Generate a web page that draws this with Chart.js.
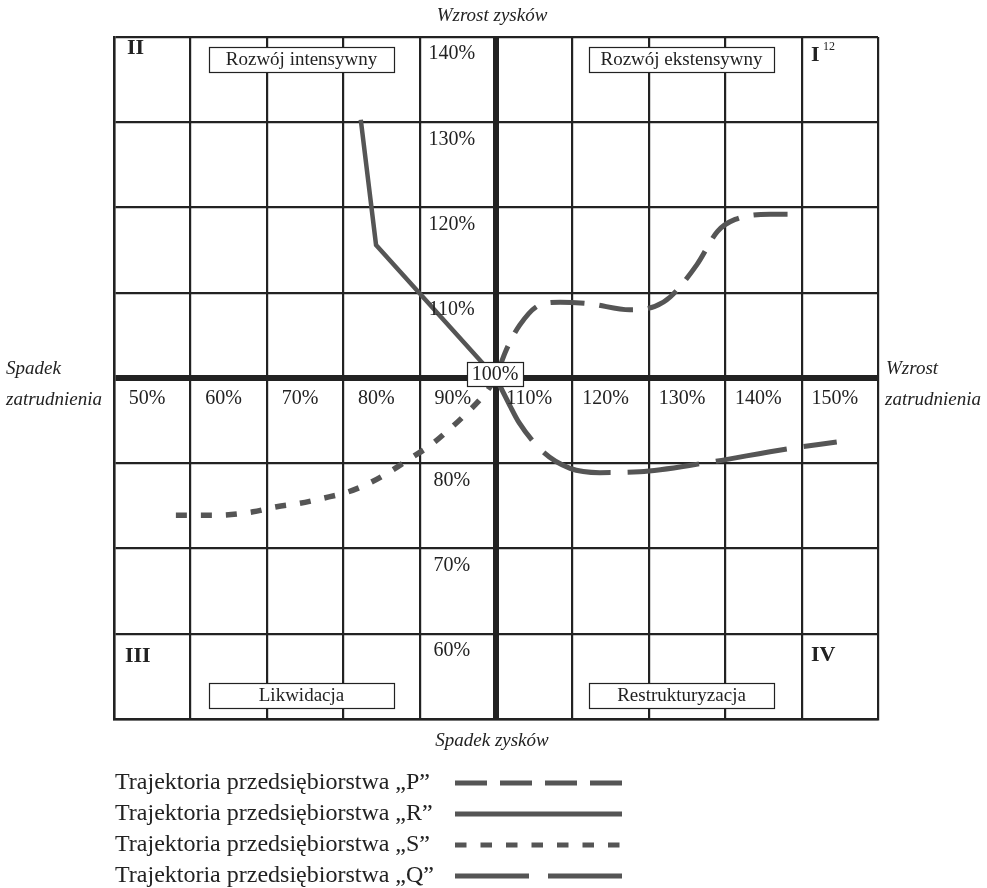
<!DOCTYPE html>
<html lang="pl">
<head>
<meta charset="utf-8">
<title>Trajektorie przedsiębiorstw</title>
<script src="https://cdn.jsdelivr.net/npm/chart.js@4.4.1/dist/chart.umd.min.js"></script>
<style>
    html, body { margin: 0; padding: 0; background: #fff; }
    #wrap { width: 987px; height: 888px; position: relative; }
</style>
</head>
<body>
<div id="wrap"><canvas id="quadChart"></canvas></div>
<script>
// Tick labels (values of the outer edge of each cell, 100% sits on the axes)
const xTickValues = [50, 60, 70, 80, 90, 110, 120, 130, 140, 150];
const xTickLabels = ['50%', '60%', '70%', '80%', '90%', '110%', '120%', '130%', '140%', '150%'];
const yTickValues = [140, 130, 120, 110, 80, 70, 60];
const yTickLabels = ['140%', '130%', '120%', '110%', '80%', '70%', '60%'];

// Trajectory P (medium dash)
const pX = [100, 101.2, 103.1, 105.8, 108.4, 112.3, 117.5, 120.8, 122.8, 126.3, 129.0, 131.3, 135.9, 139.1];
const pY = [100, 103.0, 106.2, 108.6, 108.9, 108.7, 108.0, 108.4, 109.5, 113.3, 117.2, 118.6, 119.2, 119.2];
// Trajectory R (solid)
const rX = [82.3, 84.3, 100];
const rY = [130.3, 115.6, 100];
// Trajectory S (short dash)
const sX = [58.1, 63.2, 68.2, 71.3, 74.3, 77.4, 80.5, 83.5, 86.1, 89.0, 91.4, 93.8, 96.2, 98.6, 100];
const sY = [83.9, 83.9, 84.3, 84.9, 85.3, 85.9, 86.6, 87.7, 89.0, 90.7, 92.1, 93.9, 95.9, 98.2, 100];
// Trajectory Q (long dash)
const qX = [100, 101.8, 103.0, 106.2, 109.7, 113.6, 118.8, 127.1, 138.2, 144.6];
const qY = [100, 96.8, 94.8, 91.3, 89.4, 88.9, 89.0, 90.0, 91.7, 92.5];

const legendLabels = [
    'Trajektoria przedsiębiorstwa „P”',
    'Trajektoria przedsiębiorstwa „R”',
    'Trajektoria przedsiębiorstwa „S”',
    'Trajektoria przedsiębiorstwa „Q”'
];

document.addEventListener('DOMContentLoaded', function() {
    const lineColor = '#555555';
    const gridColor = '#222222';
    const serif = '"Liberation Serif", "Times New Roman", serif';

    function toPoints(xs, ys) {
        return xs.map((x, i) => ({ x: x, y: ys[i] }));
    }

    const styles = [
        { dash: [34, 15], width: 5 },
        { dash: [], width: 4.5 },
        { dash: [11, 14], width: 5.5 },
        { dash: [72, 17], width: 5 }
    ];

    function lineSet(label, xs, ys, style, tension) {
        return {
            label: label,
            data: toPoints(xs, ys),
            showLine: true,
            borderColor: lineColor,
            borderWidth: style.width,
            borderDash: style.dash,
            borderCapStyle: 'butt',
            pointRadius: 0,
            tension: tension,
            cubicInterpolationMode: tension ? 'monotone' : 'default',
            fill: false
        };
    }

    function boxedText(ctx, text, left, top, w, h, size) {
        ctx.fillStyle = '#fff';
        ctx.fillRect(left, top, w, h);
        ctx.strokeStyle = '#222';
        ctx.lineWidth = 1.2;
        ctx.strokeRect(left + 0.5, top + 0.5, w, h);
        ctx.fillStyle = '#222';
        ctx.font = size + 'px ' + serif;
        ctx.textAlign = 'center';
        ctx.textBaseline = 'middle';
        ctx.fillText(text, left + w / 2, top + h / 2 + 1);
    }

    // Labels, boxes, quadrant numbers and the hand-made legend
    const decorations = {
        id: 'decorations',
        afterDatasetsDraw(chart) {
            const ctx = chart.ctx;
            const xs = chart.scales.x;
            const ys = chart.scales.y;
            const cellW = xs.getPixelForValue(60) - xs.getPixelForValue(50);
            ctx.save();

            // axis tick labels inside the cells
            ctx.fillStyle = '#222';
            ctx.font = '20px ' + serif;
            ctx.textAlign = 'center';
            ctx.textBaseline = 'middle';
            const yAxis = ys.getPixelForValue(100);
            xTickValues.forEach((v, i) => {
                const mid = v < 100 ? v + 5 : v - 5;
                ctx.fillText(xTickLabels[i], xs.getPixelForValue(mid) - 5, yAxis + 21);
            });
            const colX = xs.getPixelForValue(95) - 6;
            yTickValues.forEach((v, i) => {
                const top = v > 100 ? v : v + 10;
                ctx.fillText(yTickLabels[i], colX, ys.getPixelForValue(top) + 17);
            });

            // axis titles
            ctx.font = 'italic 19px ' + serif;
            ctx.fillText('Wzrost zysków', 492, 16);
            ctx.fillText('Spadek zysków', 492, 741);
            ctx.textAlign = 'left';
            ctx.fillText('Spadek', 6, 369);
            ctx.fillText('zatrudnienia', 6, 400);
            ctx.fillText('Wzrost', 886, 369);
            ctx.fillText('zatrudnienia', 885, 400);

            // quadrant numbers
            ctx.font = 'bold 22px ' + serif;
            ctx.fillText('II', 127, 48);
            ctx.fillText('I', 811, 55);
            ctx.fillText('III', 125, 656);
            ctx.fillText('IV', 811, 655);
            ctx.font = '12px ' + serif;
            ctx.fillText('12', 823, 47);

            // boxed region names
            const bw = 185, bh = 25;
            boxedText(ctx, 'Rozwój intensywny', 209, 47, bw, bh, 19);
            boxedText(ctx, 'Rozwój ekstensywny', 589, 47, bw, bh, 19);
            boxedText(ctx, 'Likwidacja', 209, 683, bw, bh, 19);
            boxedText(ctx, 'Restrukturyzacja', 589, 683, bw, bh, 19);
            boxedText(ctx, '100%', xs.getPixelForValue(100) - 29, yAxis - 16, 56, 24, 20);

            // legend
            const rowY = [783, 814, 845, 876];
            legendLabels.forEach((txt, i) => {
                ctx.fillStyle = '#222';
                ctx.font = '24px ' + serif;
                ctx.textAlign = 'left';
                ctx.textBaseline = 'middle';
                ctx.fillText(txt, 115, rowY[i]);
                ctx.strokeStyle = lineColor;
                ctx.lineWidth = 5;
                ctx.lineCap = 'butt';
                ctx.setLineDash(i === 2 ? [11.5, 14] : i === 0 ? [32, 13] : i === 3 ? [74, 19] : []);
                ctx.beginPath();
                ctx.moveTo(455, rowY[i]);
                ctx.lineTo(622, rowY[i]);
                ctx.stroke();
            });
            ctx.setLineDash([]);
            ctx.restore();
        }
    };

    function gridOptions() {
        return {
            color: gridColor,
            lineWidth: function(c) {
                if (!c.tick) return 2;
                if (c.tick.value === 100) return 6;
                return 2.2;
            },
            drawTicks: false
        };
    }

    new Chart(document.getElementById('quadChart'), {
        type: 'scatter',
        data: {
            datasets: [
                lineSet('P', pX, pY, styles[0], 0.4),
                lineSet('R', rX, rY, styles[1], 0),
                lineSet('S', sX, sY, styles[2], 0.4),
                lineSet('Q', qX, qY, styles[3], 0.4)
            ]
        },
        options: {
            responsive: true,
            maintainAspectRatio: false,
            animation: false,
            devicePixelRatio: 1,
            layout: { padding: { left: 114, right: 109, top: 37, bottom: 169 } },
            plugins: {
                legend: { display: false },
                tooltip: { enabled: false }
            },
            scales: {
                x: {
                    type: 'linear',
                    min: 50,
                    max: 150,
                    ticks: { display: false, stepSize: 10 },
                    grid: gridOptions(),
                    border: { display: true, color: gridColor, width: 2.5 },
                    afterFit: function(s) { s.height = 0; }
                },
                y: {
                    type: 'linear',
                    min: 60,
                    max: 140,
                    ticks: { display: false, stepSize: 10 },
                    grid: gridOptions(),
                    border: { display: true, color: gridColor, width: 2.5 },
                    afterFit: function(s) { s.width = 0; }
                }
            }
        },
        plugins: [decorations]
    });
});
</script>
</body>
</html>
